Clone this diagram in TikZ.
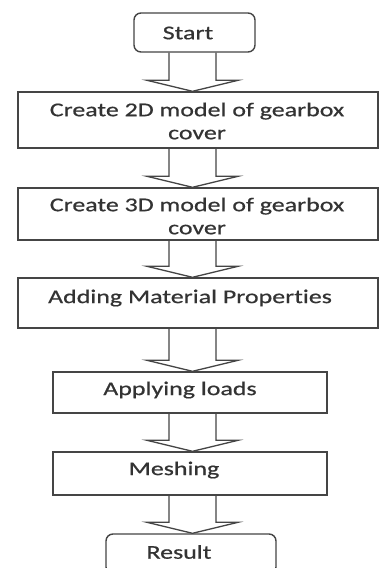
\documentclass[tikz,border=0pt]{standalone}
\usepackage{fontspec}
\setmainfont{Carlito}[FakeStretch=1.33, Ligatures={NoCommon}, FakeBold=0.6]
\usetikzlibrary{calc}
\definecolor{linec}{HTML}{454545}
\definecolor{textc}{HTML}{333333}
\tikzset{
  box/.style={draw=linec, line width=1.4pt, rectangle, inner sep=0pt},
  rbox/.style={box, rounded corners=7pt},
  lbl/.style={text=textc, font=\fontsize{19.5}{23}\selectfont, align=center, inner sep=0pt},
  arr/.style={draw=linec, line width=1.3pt, line join=miter}
}
\newcommand{\flowarrow}[2]{%
  \draw[arr] (#1.south -| ax1) -- ($(#2.north -| ax1)+(0,-11)$) -- ($(#2.north -| ax0)+(0,-11)$)
    -- (#2.north -| axc) -- ($(#2.north -| ax3)+(0,-11)$) -- ($(#2.north -| ax2)+(0,-11)$) -- (#1.south -| ax2) ;}
\begin{document}
\begin{tikzpicture}[x=1pt,y=-1pt]
\useasboundingbox (0,0) rectangle (379,568);
\clip (0,0) rectangle (379,568);
\fill[white] (0,0) rectangle (379,568);
\coordinate (ax0) at (147,0);
\coordinate (ax1) at (169,0);
\coordinate (axc) at (192.5,0);
\coordinate (ax2) at (216,0);
\coordinate (ax3) at (238,0);
% boxes
\node[rbox, minimum width=121pt, minimum height=39pt] (start) at (194.5,32.5) {};
\node[box, minimum width=360pt, minimum height=56pt] (b1) at (198,120) {};
\node[box, minimum width=360pt, minimum height=52pt] (b2) at (198,214) {};
\node[box, minimum width=360pt, minimum height=50pt] (b3) at (198,303) {};
\node[box, minimum width=274pt, minimum height=41pt] (b4) at (190,392.5) {};
\node[box, minimum width=274pt, minimum height=43pt] (b5) at (190,473.5) {};
\node[rbox, minimum width=170pt, minimum height=40pt] (res) at (191,554) {};
% texts
\node[lbl] (t0) at (188,33) {Start};
\node[lbl] (t1) at (197,121) {Create 2D model of gearbox\\cover};
\node[lbl] (t2) at (197,216) {Create 3D model of gearbox\\cover};
\node[lbl] (t3) at (190,298) {Adding Material Properties};
\node[lbl] (t4) at (180,390) {Applying loads};
\node[lbl] (t5) at (174,470) {Meshing};
\node[lbl] (t6) at (179,552) {Result};
% arrows
\flowarrow{start}{b1}
\flowarrow{b1}{b2}
\flowarrow{b2}{b3}
\flowarrow{b3}{b4}
\flowarrow{b4}{b5}
\flowarrow{b5}{res}
\end{tikzpicture}
\end{document}
